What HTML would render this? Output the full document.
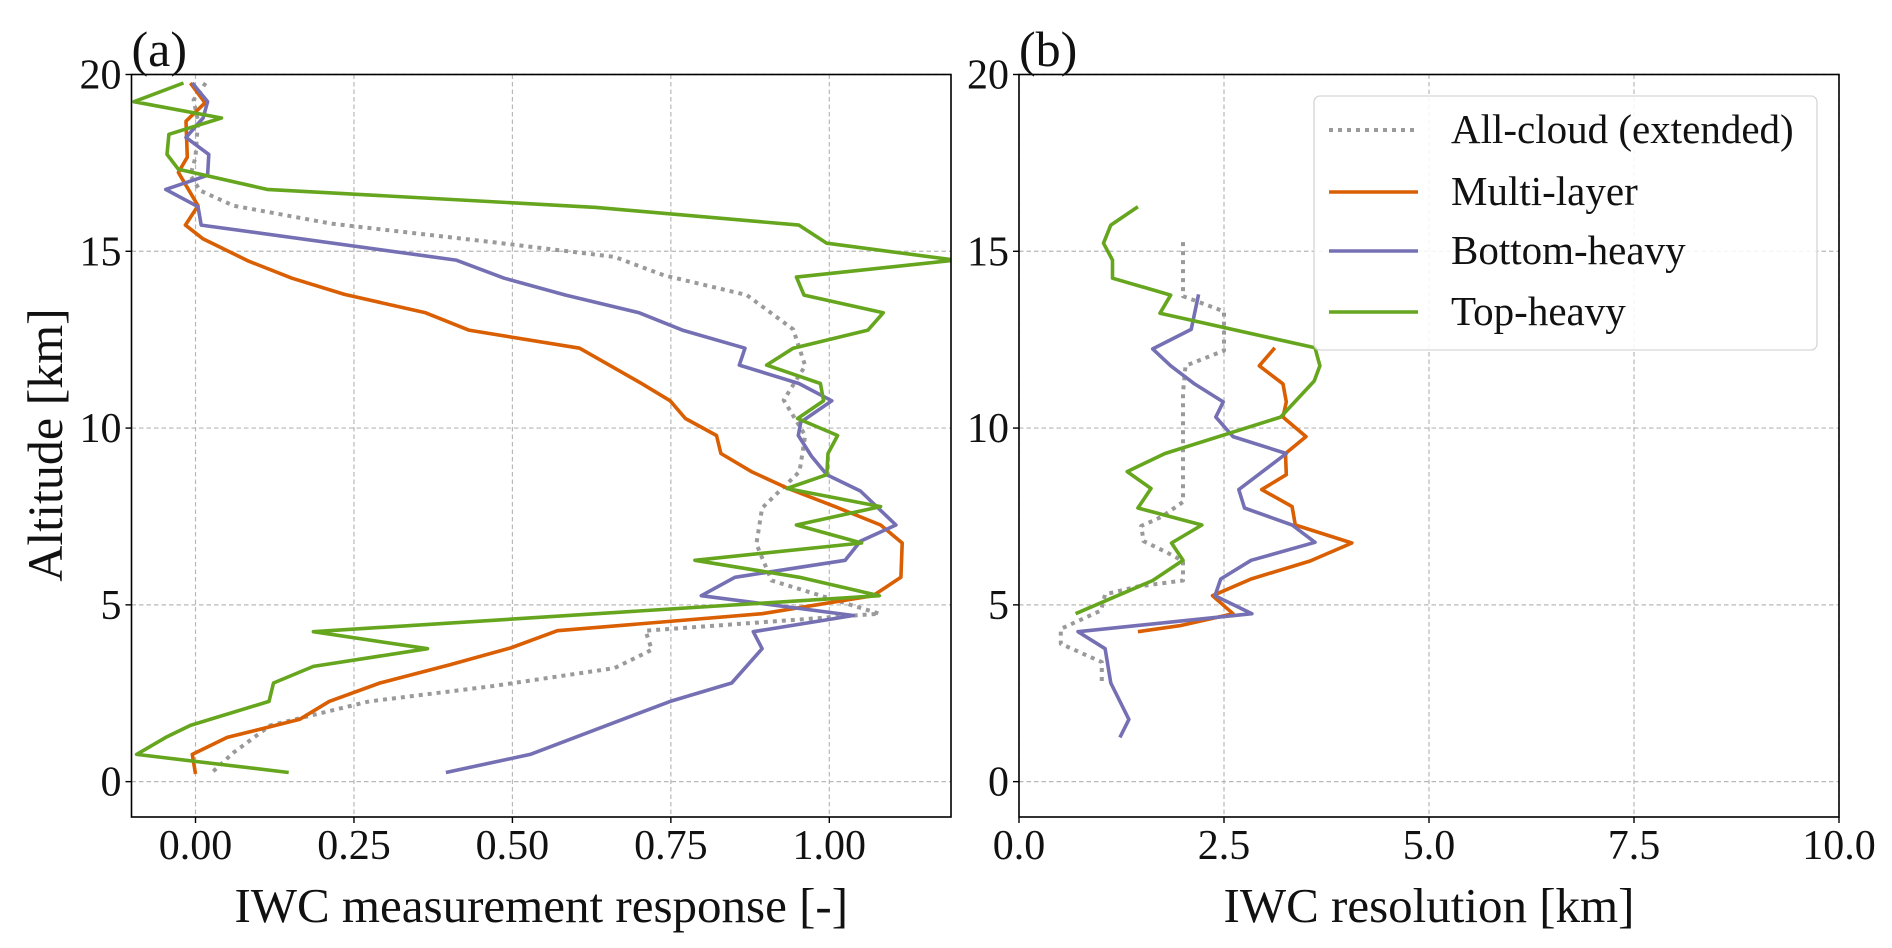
<!DOCTYPE html>
<html><head><meta charset="utf-8"><style>
html,body{margin:0;padding:0;background:#fff}
svg{display:block}
text{font-family:"Liberation Serif",serif;fill:#111}
</style></head><body>
<svg id="chart" width="1892" height="948" viewBox="0 0 1892 948" xmlns="http://www.w3.org/2000/svg">
<defs>
<clipPath id="clipA"><rect x="131.5" y="74.5" width="819.5" height="742.5"/></clipPath>
<clipPath id="clipB"><rect x="1019" y="74.5" width="820" height="742.5"/></clipPath>
</defs>
<g id="panelA"></g>
<g id="panelB"></g>
</svg>
<script>
// ---- data: panel (a) IWC measurement response ----
const aGrayX = [0.016,-0.003,0.004,0,-0.008,0.007,0.060,0.215,0.468,0.661,0.739,0.870,0.943,0.962,0.928,0.962,0.953,0.894,0.885,0.909,1.079,0.710,0.720,0.661,0.468,0.274,0.118,0.060,0.026];
const aGrayY = [19.76,19.28,18.68,17.66,17.15,16.72,16.29,15.78,15.26,14.84,14.32,13.76,12.79,11.76,10.79,9.79,8.77,7.74,6.72,5.69,4.75,4.27,3.73,3.21,2.70,2.27,1.59,0.82,0.26];
const aOrangeX = [-0.008,0.015,-0.015,-0.013,-0.027,0.004,-0.016,0.012,0.084,0.152,0.235,0.363,0.431,0.606,0.705,0.749,0.773,0.822,0.829,0.877,0.935,1.009,1.081,1.115,1.113,1.069,0.894,0.571,0.497,0.400,0.291,0.211,0.164,0.050,-0.005,0.0];
const aOrangeY = [19.76,19.2,18.68,17.66,17.23,16.29,15.74,15.35,14.72,14.24,13.78,13.26,12.77,12.26,11.25,10.77,10.27,9.79,9.28,8.77,8.29,7.78,7.26,6.75,5.78,5.26,4.75,4.27,3.78,3.30,2.79,2.27,1.76,1.25,0.77,0.22];
const aPurpleX = [-0.005,0.019,0.012,-0.015,0.021,0.019,-0.047,0.004,0.009,0.411,0.487,0.584,0.700,0.768,0.867,0.858,0.952,1.004,0.955,0.951,0.972,0.996,1.049,1.105,1.049,1.025,0.851,0.798,1.038,0.880,0.894,0.846,0.749,0.528,0.395];
const aPurpleY = [19.76,19.23,18.77,18.22,17.74,17.15,16.75,16.26,15.74,14.75,14.24,13.76,13.26,12.77,12.26,11.78,11.26,10.77,10.17,9.79,9.2,8.68,8.22,7.26,6.80,6.26,5.78,5.26,4.70,4.24,3.76,2.79,2.27,0.77,0.26];
const aGreenX = [-0.019,-0.097,0.041,-0.042,-0.045,-0.027,0.113,0.632,0.952,0.996,1.198,0.948,0.960,1.085,1.061,0.943,0.901,0.986,0.991,0.950,1.013,0.998,0.996,0.933,1.081,0.948,1.051,0.788,0.953,1.079,0.186,0.366,0.186,0.123,0.116,-0.008,-0.047,-0.093,0.147];
const aGreenY = [19.76,19.23,18.77,18.31,17.74,17.32,16.75,16.24,15.74,15.23,14.75,14.27,13.76,13.26,12.77,12.26,11.78,11.26,10.77,10.27,9.79,9.28,8.68,8.29,7.78,7.26,6.75,6.26,5.78,5.26,4.24,3.76,3.26,2.79,2.27,1.59,1.25,0.77,0.26];
// ---- data: panel (b) IWC resolution ----
const bGrayX = [2.0,2.0,2.5,2.5,2.03,2.0,2.0,1.74,1.49,1.52,1.78,2.0,2.0,1.45,1.05,1.0,0.51,0.51,1.01,1.01];
const bGrayY = [15.26,13.73,13.3,12.19,11.76,11.0,7.91,7.49,7.23,6.8,6.51,6.24,5.69,5.52,5.30,4.84,4.32,3.9,3.38,2.79];
const bOrangeX = [3.12,2.93,3.22,3.26,3.22,3.50,3.25,3.26,2.96,3.33,3.37,4.06,3.55,2.83,2.36,2.61,1.96,1.45];
const bOrangeY = [12.27,11.76,11.25,10.74,10.31,9.76,9.28,8.68,8.26,7.78,7.26,6.75,6.24,5.73,5.26,4.75,4.41,4.24];
const bPurpleX = [2.19,2.10,1.63,1.85,2.14,2.49,2.40,2.61,3.26,2.68,2.75,3.33,3.61,2.83,2.46,2.39,2.84,0.72,1.05,1.12,1.34,1.23];
const bPurpleY = [13.78,12.79,12.24,11.76,11.25,10.74,10.31,9.76,9.28,8.26,7.74,7.26,6.77,6.26,5.73,5.26,4.75,4.24,3.76,2.79,1.76,1.25];
const bGreenX = [1.45,1.12,1.03,1.14,1.14,1.85,1.72,3.61,3.67,3.60,3.19,1.78,1.32,1.61,1.45,2.23,1.86,2.0,1.63,0.69];
const bGreenY = [16.26,15.74,15.23,14.75,14.24,13.76,13.25,12.27,11.76,11.33,10.31,9.28,8.77,8.29,7.74,7.26,6.75,6.26,5.69,4.75];
// ---- ticks ----
const yTicks = [0,5,10,15,20];
const aXTicks = [0,0.25,0.5,0.75,1.0];
const aXTickLabels = ["0.00","0.25","0.50","0.75","1.00"];
const bXTicks = [0,2.5,5,7.5,10];
const bXTickLabels = ["0.0","2.5","5.0","7.5","10.0"];
const legendLabels = ["All-cloud (extended)","Multi-layer","Bottom-heavy","Top-heavy"];

const NS="http://www.w3.org/2000/svg";
const C={gray:"#9a9a9a",orange:"#d95f02",purple:"#7570b3",green:"#66a61e"};
const pTop=74.5,pBot=817;
const yScale=v=>pBot-(v-(-1))/(21)*(pBot-pTop);
function mk(tag,attrs,parent){const e=document.createElementNS(NS,tag);for(const k in attrs)e.setAttribute(k,attrs[k]);parent.appendChild(e);return e;}

function panel(g,x0,x1,xmin,xmax,xt,xtl,series,clip,xlabel,letter,ylab){
  const xs=v=>x0+(v-xmin)/(xmax-xmin)*(x1-x0);
  xt.forEach(v=>{const l=mk('line',{x1:xs(v),x2:xs(v),y1:pTop,y2:pBot,stroke:'#b8b8b8','stroke-width':1.2,'stroke-dasharray':'4.5 3'},g);
    
    });
  yTicks.forEach(v=>{const l=mk('line',{x1:x0,x2:x1,y1:yScale(v),y2:yScale(v),stroke:'#b8b8b8','stroke-width':1.2,'stroke-dasharray':'4.5 3'},g);
    
    });
  const sg=mk('g',{'clip-path':'url(#'+clip+')'},g);
  series.forEach(s=>{
    const pts=s.x.map((v,i)=>xs(v).toFixed(1)+','+yScale(s.y[i]).toFixed(1)).join(' ');
    const p=mk('polyline',{points:pts,fill:'none',stroke:s.c,'stroke-width':s.dot?4:3.6,'stroke-linejoin':'round','stroke-dasharray':s.dot?'4 5':'none'},sg);
    
    
  });
  const f=mk('rect',{x:x0,y:pTop,width:x1-x0,height:pBot-pTop,fill:'none',stroke:'#000','stroke-width':1.6},g);
  
  
  xt.forEach((v,i)=>{mk('line',{x1:xs(v),x2:xs(v),y1:pBot,y2:pBot+6,stroke:'#000','stroke-width':1.4},g);
    const t=mk('text',{x:xs(v),y:859,'font-size':42,'text-anchor':'middle'},g);t.textContent=xtl[i];
    
    });
  yTicks.forEach(v=>{mk('line',{x1:x0-6,x2:x0,y1:yScale(v),y2:yScale(v),stroke:'#000','stroke-width':1.4},g);
    const t=mk('text',{x:x0-10,y:yScale(v)+14,'font-size':42,'text-anchor':'end'},g);t.textContent=String(v);
    
    });
  const xl=mk('text',{x:(x0+x1)/2,y:922,'font-size':49,'text-anchor':'middle'},g);xl.textContent=xlabel;
  
  
  const lt=mk('text',{x:x0,y:66,'font-size':50},g);lt.textContent=letter;
  
  
  if(ylab){const yl=mk('text',{x:0,y:0,'font-size':50,'text-anchor':'middle',transform:'translate(62,445) rotate(-90)'},g);yl.textContent=ylab;
    
    }
}
panel(document.getElementById('panelA'),131.5,951,-0.101,1.192,aXTicks,aXTickLabels,[
 {x:aGrayX,y:aGrayY,c:C.gray,dot:1,name:'all-cloud-line'},
 {x:aOrangeX,y:aOrangeY,c:C.orange,name:'multi-layer-line'},
 {x:aPurpleX,y:aPurpleY,c:C.purple,name:'bottom-heavy-line'},
 {x:aGreenX,y:aGreenY,c:C.green,name:'top-heavy-line'}],'clipA','IWC measurement response [-]','(a)','Altitude [km]');
panel(document.getElementById('panelB'),1019,1839,0,10,bXTicks,bXTickLabels,[
 {x:bGrayX,y:bGrayY,c:C.gray,dot:1,name:'all-cloud-line'},
 {x:bOrangeX,y:bOrangeY,c:C.orange,name:'multi-layer-line'},
 {x:bPurpleX,y:bPurpleY,c:C.purple,name:'bottom-heavy-line'},
 {x:bGreenX,y:bGreenY,c:C.green,name:'top-heavy-line'}],'clipB','IWC resolution [km]','(b)',null);
const lg=mk('g',{},document.getElementById('panelB'));


mk('rect',{x:1314,y:96,width:503,height:254,rx:6,fill:'#fff','fill-opacity':0.85,stroke:'#d6d6d6','stroke-width':1.3},lg);
const lc=[C.gray,C.orange,C.purple,C.green];
[130,192,251,312].forEach((yy,i)=>{
  const e=mk('g',{},lg);
  
  
  mk('line',{x1:1329,x2:1418,y1:yy,y2:yy,stroke:lc[i],'stroke-width':i==0?4:3.6,'stroke-dasharray':i==0?'4 5':'none'},e);
  const t=mk('text',{x:1451,y:yy+13,'font-size':41},e);t.textContent=legendLabels[i];
});
</script>
</body></html>
